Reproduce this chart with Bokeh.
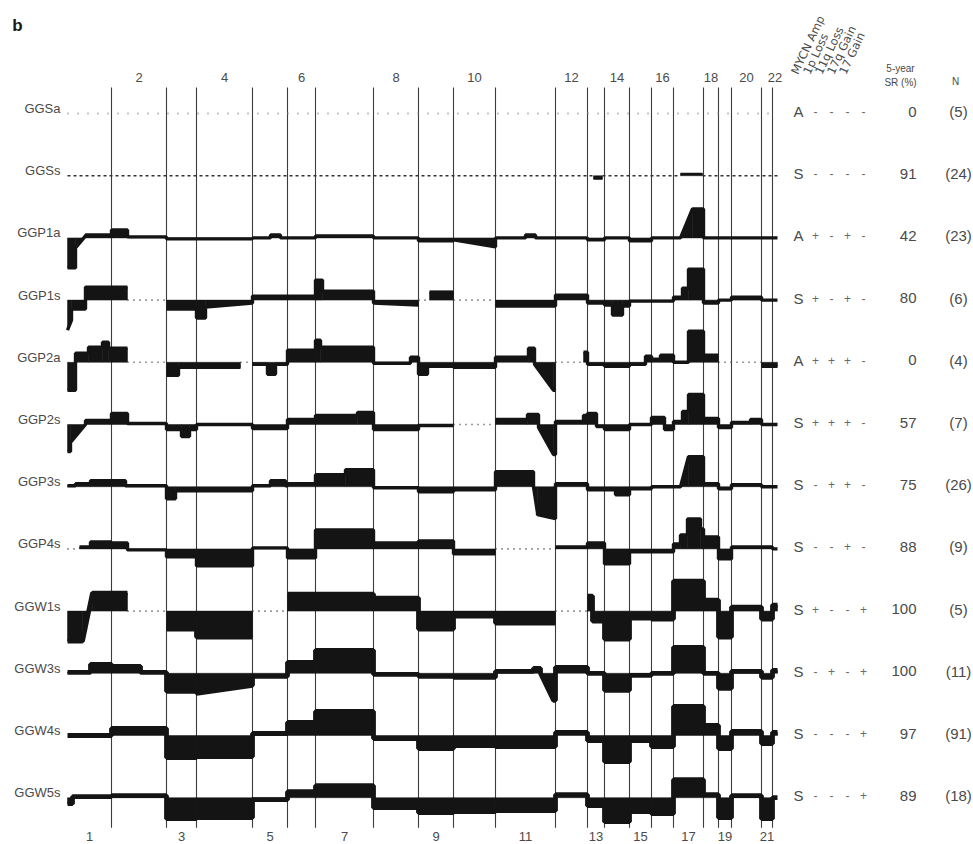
import math
from bokeh.plotting import figure
from bokeh.models import Range1d, ColumnDataSource
from bokeh.core.properties import value
from bokeh.embed import file_html
from bokeh.resources import INLINE

NA = float("nan")

# ---------------- data ----------------
chrom_names = [str(i) for i in range(1, 23)]
chrom_len = [44, 55, 30, 56, 35, 28, 58, 45, 35, 42, 60, 32, 17, 25, 22, 22, 30, 15, 13, 30, 11, 5]

row_names = ["GGSa", "GGSs", "GGP1a", "GGP1s", "GGP2a", "GGP2s",
             "GGP3s", "GGP4s", "GGW1s", "GGW3s", "GGW4s", "GGW5s"]
mycn_status = ["A", "S", "A", "S", "A", "S", "S", "S", "S", "S", "S", "S"]
loss_1p = ["-", "-", "+", "+", "+", "+", "-", "-", "+", "-", "-", "-"]
loss_11q = ["-", "-", "-", "-", "+", "+", "+", "-", "-", "+", "-", "-"]
gain_17q = ["-", "-", "+", "+", "+", "+", "+", "+", "-", "-", "-", "-"]
gain_17 = ["-", "-", "-", "-", "-", "-", "-", "-", "+", "+", "+", "+"]
survival_5y = [0, 91, 42, 80, 0, 57, 75, 88, 100, 100, 97, 89]
n_cases = [5, 24, 23, 6, 4, 7, 26, 9, 5, 11, 91, 18]
header_labels = ["MYCN Amp", "1p Loss", "11q Loss", "17q Gain", "17 Gain"]

# segments: (genome start, genome end, level at start, level at end); NA = sparse data
seg_GGSa = [(0, 710, 0, 0)]
seg_GGSs = [(0, 526, 0, 0), (526, 535, -3, -3), (535, 613, 0, 0), (613, 635, 2, 2), (635, 710, 0, 0)]
seg_GGP1a = [(0, 8, -30, -30), (8, 18, -10, 2), (18, 44, 3, 3), (44, 60, 8, 8), (60, 99, 1, 1),
             (99, 185, -1, -1), (185, 203, 0, 0), (203, 213, 3, 3), (213, 248, 0, 0), (248, 306, 2, 2),
             (306, 351, 0, 0), (351, 386, -3, -3), (386, 428, -2, -9), (428, 458, 0, 0), (458, 468, 3, 3),
             (468, 520, 0, 0), (520, 537, -2, -2), (537, 562, 0, 0), (562, 584, -3, -3), (584, 613, 0, 0),
             (613, 625, 0, 29), (625, 636, 29, 29), (636, 710, 0, 0)]
seg_GGP1s = [(0, 4, -30, -20), (4, 18, -9, -9), (18, 60, 13, 13), (60, 99, NA, NA), (99, 129, -9, -9),
             (129, 138, -18, -18), (138, 185, -7, -3), (185, 248, 4, 4), (248, 255, 20, 20), (255, 306, 9, 9),
             (306, 351, -3, -5), (351, 362, NA, NA), (362, 386, 8, 8), (386, 428, NA, NA), (428, 488, -6, -6),
             (488, 520, 5, 5), (520, 537, -3, -3), (537, 545, -5, -5), (545, 555, -15, -15), (555, 562, -6, -6),
             (562, 606, -1, -1), (606, 615, 3, 3), (615, 621, 12, 12), (621, 636, 31, 31), (636, 651, -3, -3),
             (651, 664, 0, 0), (664, 694, 3, 3), (694, 710, 0, 0)]
seg_GGP2a = [(0, 8, -28, -28), (8, 21, 9, 9), (21, 35, 15, 15), (35, 41, 20, 20), (41, 60, 14, 14),
             (60, 99, NA, NA), (99, 111, -13, -13), (111, 173, -5, -5), (173, 185, NA, NA), (185, 200, -2, -2),
             (200, 208, -12, -12), (208, 220, -2, -2), (220, 248, 12, 12), (248, 253, 22, 22), (253, 306, 15, 15),
             (306, 343, -1, -1), (343, 351, 5, 5), (351, 360, -12, -12), (360, 386, -4, -4), (386, 428, -5, -5),
             (428, 461, 5, 5), (461, 467, 14, 14), (467, 486, -2, -28), (486, 488, -28, -28), (488, 516, NA, NA),
             (516, 520, 10, 10), (520, 537, -2, -2), (537, 562, -4, -4), (562, 578, -2, -2), (578, 584, 6, 6),
             (584, 593, 3, 3), (593, 606, 7, 7), (606, 621, 0, 0), (621, 636, 31, 31), (636, 651, 7, 7),
             (651, 694, NA, NA), (694, 710, -4, -4)]
seg_GGP2s = [(0, 3, -27, -27), (3, 18, -18, 0), (18, 44, 4, 4), (44, 60, 11, 11), (60, 99, 1, 1),
             (99, 114, -5, -5), (114, 122, -12, -12), (122, 129, -5, -5), (129, 185, 0, 0), (185, 220, -4, -4),
             (220, 248, 5, 5), (248, 290, 9, 9), (290, 306, 12, 12), (306, 351, -5, -5), (351, 386, -1, -1),
             (386, 428, NA, NA), (428, 460, 5, 5), (460, 471, 10, 10), (471, 486, -3, -30), (486, 488, -30, -30),
             (488, 516, 3, 3), (516, 520, 9, 9), (520, 529, 11, 11), (529, 537, -2, -2), (537, 562, -5, -5),
             (562, 584, 0, 0), (584, 597, 7, 7), (597, 606, -5, -5), (606, 615, 3, 3), (615, 621, 13, 13),
             (621, 636, 30, 30), (636, 651, 6, 6), (651, 664, -3, -3), (664, 683, 2, 2), (683, 694, 5, 5),
             (694, 710, 0, 0)]
seg_GGP3s = [(0, 8, 1, 1), (8, 23, 3, 3), (23, 58, 6, 6), (58, 99, 1, 1), (99, 108, -12, -12),
             (108, 185, -4, -4), (185, 203, 1, 1), (203, 218, 6, 6), (218, 220, 1, 1), (220, 248, 3, 3),
             (248, 278, 12, 12), (278, 306, 17, 17), (306, 351, -1, -1), (351, 386, -5, -5), (386, 428, -3, -3),
             (428, 466, 15, 15), (466, 470, 0, -26), (470, 488, -28, -32), (488, 520, 3, 3), (520, 548, -3, -3),
             (548, 562, -8, -8), (562, 584, -2, -2), (584, 613, 0, 0), (613, 621, 0, 30), (621, 636, 30, 30),
             (636, 651, 3, 3), (651, 664, -2, -2), (664, 694, 2, 2), (694, 710, 0, 0)]
seg_GGP4s = [(0, 12, NA, NA), (12, 23, 2, 2), (23, 44, 7, 7), (44, 60, 6, 6), (60, 99, -1, -1),
             (99, 129, -8, -8), (129, 185, -17, -17), (185, 220, 1, 1), (220, 248, -9, -9), (248, 306, 19, 19),
             (306, 351, 6, 6), (351, 386, 8, 8), (386, 428, -5, -5), (428, 488, NA, NA), (488, 520, 2, 2),
             (520, 537, 6, 6), (537, 562, -15, -15), (562, 606, -3, -3), (606, 613, 5, 5), (613, 620, 14, 14),
             (620, 633, 30, 30), (633, 636, 20, 20), (636, 651, 12, 12), (651, 664, -10, -10), (664, 705, 2, 2),
             (705, 710, 0, 0)]
seg_GGW1s = [(0, 15, -30, -30), (15, 25, -30, 18), (25, 60, 18, 18), (60, 99, NA, NA), (99, 129, -18, -18),
             (129, 185, -26, -26), (185, 220, NA, NA), (220, 306, 17, 17), (306, 351, 13, 13), (351, 386, -18, -18),
             (386, 428, -5, -5), (428, 488, -12, -12), (488, 520, NA, NA), (520, 525, 15, 15), (525, 537, -10, -10),
             (537, 562, -28, -28), (562, 584, -7, -7), (584, 606, -8, -8), (606, 636, 30, 30), (636, 651, 11, 11),
             (651, 664, -26, -26), (664, 694, 4, 4), (694, 705, -8, -8), (705, 710, 6, 6)]
seg_GGW3s = [(0, 23, 1, 1), (23, 44, 9, 9), (44, 73, 7, 7), (73, 99, 1, 1), (99, 129, -18, -18),
             (129, 185, -20, -12), (185, 220, -3, -3), (220, 248, 11, 11), (248, 306, 23, 23), (306, 351, -1, -1),
             (351, 386, -3, -3), (386, 428, -4, -4), (428, 466, 2, 2), (466, 473, 5, 5), (473, 486, 0, -27),
             (486, 488, -27, -27), (488, 520, 6, 6), (520, 537, 0, 0), (537, 562, -17, -17), (562, 584, -2, -2),
             (584, 606, 0, 0), (606, 636, 26, 26), (636, 651, 0, 0), (651, 664, -15, -15), (664, 694, 2, 2),
             (694, 705, -4, -4), (705, 710, 3, 3)]
seg_GGW4s = [(0, 44, 0, 0), (44, 99, 7, 7), (99, 129, -22, -22), (129, 185, -21, -21), (185, 220, 2, 2),
             (220, 248, 13, 13), (248, 306, 24, 24), (306, 351, -3, -3), (351, 386, -13, -13), (386, 428, -10, -10),
             (428, 488, -11, -11), (488, 520, 3, 3), (520, 537, -5, -5), (537, 562, -26, -26), (562, 584, -5, -5),
             (584, 606, -11, -11), (606, 636, 29, 29), (636, 651, 10, 10), (651, 664, -13, -13), (664, 694, 4, 4),
             (694, 705, -8, -8), (705, 710, 3, 3)]
seg_GGW5s = [(0, 5, -6, -6), (5, 44, 1, 1), (44, 99, 2, 2), (99, 129, -21, -21), (129, 185, -20, -20),
             (185, 220, -2, -2), (220, 248, 6, 6), (248, 306, 12, 12), (306, 351, -10, -10), (351, 386, -15, -15),
             (386, 428, -14, -14), (428, 488, -13, -13), (488, 520, 3, 3), (520, 537, -8, -8), (537, 562, -24, -24),
             (562, 584, -14, -14), (584, 606, -16, -16), (606, 636, 18, 18), (636, 651, 3, 3), (651, 664, -20, -20),
             (664, 694, 2, 2), (694, 705, -21, -21), (705, 710, 0, 0)]

row_segments = [seg_GGSa, seg_GGSs, seg_GGP1a, seg_GGP1s, seg_GGP2a, seg_GGP2s,
                seg_GGP3s, seg_GGP4s, seg_GGW1s, seg_GGW3s, seg_GGW4s, seg_GGW5s]

# ---------------- layout ----------------
ROW_STEP = 62.2
FONT = value("Liberation Sans")
HFONT = value("DejaVu Sans")
TXT = "#4a4a4a"
INK = "#141414"

p = figure(width=972, height=843, x_range=Range1d(-67, 905), y_range=Range1d(-730, 113),
           output_backend="svg", toolbar_location=None, min_border=0,
           x_axis_location=None, y_axis_location=None)
p.grid.visible = False
p.outline_line_color = None
p.background_fill_color = "white"
p.border_fill_color = "white"

starts = [0]
for L in chrom_len[:-1]:
    starts.append(starts[-1] + L)
ends = [s + L for s, L in zip(starts, chrom_len)]
mids = [(s + e) / 2 for s, e in zip(starts, ends)]

bases = [-i * ROW_STEP for i in range(len(row_names))]
top_y = bases[0] + 26
bot_y = bases[-1] - 30

# chromosome boundary lines
p.segment(x0=ends[:-1], x1=ends[:-1], y0=[top_y] * 21, y1=[bot_y] * 21,
          line_color="#3c3c3c", line_width=1.1)

# chromosome numbers
even_idx = [i for i in range(22) if (i + 1) % 2 == 0]
odd_idx = [i for i in range(22) if (i + 1) % 2 == 1]
p.text(x=[mids[i] for i in even_idx], y=[top_y + 10] * len(even_idx),
       text=[chrom_names[i] for i in even_idx], text_font=FONT, text_font_size="13px",
       text_color=TXT, text_align="center", text_baseline="middle")
p.text(x=[mids[i] for i in odd_idx], y=[bot_y - 9] * len(odd_idx),
       text=[chrom_names[i] for i in odd_idx], text_font=FONT, text_font_size="13px",
       text_color=TXT, text_align="center", text_baseline="middle")

# profiles
fill_xs, fill_ys = [], []
tr_xs, tr_ys, tr_w = [], [], []
sp_xs, sp_ys = [], []
light_lines = []

for i, segs in enumerate(row_segments):
    b = bases[i]
    light = i < 2
    width = 3.4 if i < 8 else 4.8
    run_x, run_y = [], []
    for (g0, g1, v0, v1) in segs:
        if math.isnan(v0):
            if run_x:
                tr_xs.append(run_x); tr_ys.append(run_y); tr_w.append(width)
                run_x, run_y = [], []
            sp_xs.append([g0, g1]); sp_ys.append([b, b])
            continue
        if v0 != 0 or v1 != 0:
            fill_xs.append([g0, g1, g1, g0])
            fill_ys.append([b, b, b + v1, b + v0])
        if light:
            if v0 == 0 and v1 == 0:
                light_lines.append(([g0, g1], [b, b], "1 9" if i == 0 else "3 3",
                                    "#8a8a8a" if i == 0 else "#333333", 2.0 if i == 0 else 1.6))
            else:
                tr_xs.append([g0, g1]); tr_ys.append([b + v0, b + v1]); tr_w.append(2.0)
            continue
        run_x += [g0, g1]
        run_y += [b + v0, b + v1]
    if run_x:
        tr_xs.append(run_x); tr_ys.append(run_y); tr_w.append(width)

p.patches(xs=fill_xs, ys=fill_ys, fill_color=INK, line_color=INK, line_width=0.5)
tr_src = ColumnDataSource(dict(xs=tr_xs, ys=tr_ys, w=tr_w))
p.multi_line(xs="xs", ys="ys", line_width="w", line_color=INK, line_join="bevel", source=tr_src)
p.multi_line(xs=sp_xs, ys=sp_ys, line_color="#3a3a3a", line_width=1.6, line_dash="1 5")
for lx, ly, ld, lc, lw in light_lines:
    p.line(x=lx, y=ly, line_dash=ld, line_color=lc, line_width=lw)

# row labels (left)
p.text(x=[-7] * len(row_names), y=[b + 5 for b in bases], text=row_names, text_font=FONT,
       text_font_size="13px", text_color=TXT, text_align="right", text_baseline="middle")

# right-hand annotations
ann_y = [b + 2 for b in bases]
p.text(x=[731] * len(row_names), y=ann_y, text=mycn_status, text_font=FONT,
       text_font_size="15px", text_color=TXT, text_align="center", text_baseline="middle")
for col_x, col in zip([748, 764, 780, 796], [loss_1p, loss_11q, gain_17q, gain_17]):
    p.text(x=[col_x] * len(col), y=ann_y, text=col, text_font=FONT, text_font_size="12px",
           text_color="#6a6a6a", text_align="center", text_baseline="middle")
p.text(x=[849] * len(row_names), y=ann_y, text=[str(v) for v in survival_5y], text_font=FONT,
       text_font_size="15px", text_color=TXT, text_align="right", text_baseline="middle")
p.text(x=[891] * len(row_names), y=ann_y, text=["(%d)" % n for n in n_cases], text_font=FONT,
       text_font_size="15px", text_color=TXT, text_align="center", text_baseline="middle")

# column headers (rotated)
p.text(x=[727, 739, 751, 763, 775], y=[40] * 5, text=header_labels, text_font=HFONT,
       text_font_size="11.5px", text_color=TXT, angle=1.13, text_align="left",
       text_baseline="alphabetic")
p.text(x=[833, 833], y=[45, 31], text=["5-year", "SR (%)"], text_font=FONT, text_font_size="10px",
       text_color=TXT, text_align="center", text_baseline="middle")
p.text(x=[888], y=[32], text=["N"], text_font=FONT, text_font_size="10px",
       text_color=TXT, text_align="center", text_baseline="middle")

# panel letter
p.text(x=[-50], y=[88], text=["b"], text_font=FONT, text_font_size="17px", text_font_style="bold",
       text_color="#1a1a1a", text_align="center", text_baseline="middle")

open("out.html", "w").write(file_html(p, INLINE))
